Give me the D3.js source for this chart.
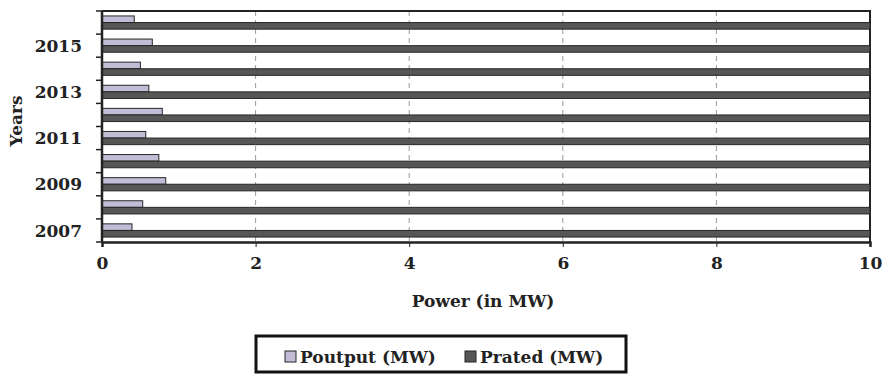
<!DOCTYPE html>
<html>
<head>
<meta charset="utf-8">
<script src="https://cdn.jsdelivr.net/npm/d3@7"></script>
<style>
  body { margin: 0; background: #fff; }
  text { font-family: "DejaVu Serif", serif; font-weight: bold; fill: #222; }
</style>
</head>
<body>
<svg id="chart" width="886" height="374"></svg>
<script>
// data
var years = ["2007", "2008", "2009", "2010", "2011", "2012", "2013", "2014", "2015", "2016"];
var poutput = [0.39, 0.53, 0.83, 0.74, 0.57, 0.785, 0.61, 0.50, 0.655, 0.42];
var prated = [10, 10, 10, 10, 10, 10, 10, 10, 10, 10];
var xTicks = [0, 2, 4, 6, 8, 10];
var seriesNames = ["Poutput (MW)", "Prated (MW)"];
var colors = ["#c3bcd6", "#565656"];

var margin = {top: 11, right: 16, bottom: 132, left: 102},
    width = 870 - margin.left,
    height = 242 - margin.top;

var svg = d3.select("#chart");
var g = svg.append("g")
    .attr("transform", "translate(" + margin.left + "," + margin.top + ")");

var x = d3.scaleLinear().domain([0, 10]).range([0, width]);

// 2007 at the bottom
var y = d3.scaleBand().domain(years.slice().reverse()).range([0, height]);

var inner = d3.scaleBand().domain([0, 1]).range([0, y.bandwidth()])
    .paddingInner(0).paddingOuter(0.75);

// dashed gridlines
g.selectAll("line.grid")
    .data(xTicks.filter(function(d) { return d > 0 && d < 10; }))
  .enter().append("line")
    .attr("class", "grid")
    .attr("x1", x).attr("x2", x)
    .attr("y1", 0).attr("y2", height)
    .attr("stroke", "#999")
    .attr("stroke-width", 1)
    .attr("stroke-dasharray", "5,4");

// plot border (top and right)
g.append("path")
    .attr("d", "M0,0H" + x(10) + "V" + height)
    .attr("fill", "none")
    .attr("stroke", "#222")
    .attr("stroke-width", 2);

var rows = years.map(function(yr, i) {
  return {year: yr, values: [poutput[i], prated[i]]};
});

var row = g.selectAll("g.row")
    .data(rows)
  .enter().append("g")
    .attr("class", "row")
    .attr("transform", function(d) { return "translate(0," + y(d.year) + ")"; });

row.selectAll("rect")
    .data(function(d) { return d.values; })
  .enter().append("rect")
    .attr("x", x(0))
    .attr("y", function(d, i) { return inner(i); })
    .attr("width", function(d) { return x(d) - x(0); })
    .attr("height", inner.bandwidth())
    .attr("fill", function(d, i) { return colors[i]; })
    .attr("stroke", "#262626")
    .attr("stroke-width", 1);

// x axis
var xAxis = g.append("g")
    .attr("transform", "translate(0," + height + ")")
    .call(d3.axisBottom(x).tickValues(xTicks).tickSize(5).tickPadding(10));
xAxis.select(".domain").attr("stroke", "#222").attr("stroke-width", 2.5);
xAxis.selectAll(".tick line").attr("stroke", "#222");
xAxis.selectAll("text").attr("font-size", 17).attr("fill", "#222")
    .style("font-family", "DejaVu Serif").style("font-weight", "bold");

// y axis: ticks on band boundaries, labels every other year
var yAxis = g.append("g");
yAxis.append("line")
    .attr("x1", 0).attr("x2", 0).attr("y1", 0).attr("y2", height)
    .attr("stroke", "#222").attr("stroke-width", 2.5);
yAxis.selectAll("line.tk")
    .data(years.concat(["end"]))
  .enter().append("line")
    .attr("class", "tk")
    .attr("x1", -6).attr("x2", 0)
    .attr("y1", function(d) { return d === "end" ? height : y(d); })
    .attr("y2", function(d) { return d === "end" ? height : y(d); })
    .attr("stroke", "#222").attr("stroke-width", 1.5);
yAxis.selectAll("text")
    .data(years.filter(function(d, i) { return i % 2 === 0; }))
  .enter().append("text")
    .attr("x", -20)
    .attr("y", function(d) { return y(d) + y.bandwidth() / 2; })
    .attr("dy", "0.36em")
    .attr("text-anchor", "end")
    .attr("font-size", 17)
    .text(function(d) { return d; });

// axis titles
svg.append("text")
    .attr("x", 483)
    .attr("y", 307)
    .attr("text-anchor", "middle")
    .attr("font-size", 17)
    .text("Power (in MW)");

svg.append("text")
    .attr("transform", "translate(22,121) rotate(-90)")
    .attr("text-anchor", "middle")
    .attr("font-size", 17)
    .text("Years");

// legend
var legend = svg.append("g").attr("transform", "translate(256,336)");
legend.append("rect")
    .attr("width", 370).attr("height", 36)
    .attr("fill", "#fff").attr("stroke", "#111").attr("stroke-width", 3);

var item = legend.selectAll("g.item")
    .data(seriesNames)
  .enter().append("g")
    .attr("class", "item")
    .attr("transform", function(d, i) { return "translate(" + (i === 0 ? 29 : 209) + ",15)"; });
item.append("rect")
    .attr("width", 11).attr("height", 11)
    .attr("fill", function(d, i) { return colors[i]; })
    .attr("stroke", "#262626");
item.append("text")
    .attr("x", 15)
    .attr("y", 12)
    .attr("font-size", 17)
    .text(function(d) { return d; });
</script>
</body>
</html>
